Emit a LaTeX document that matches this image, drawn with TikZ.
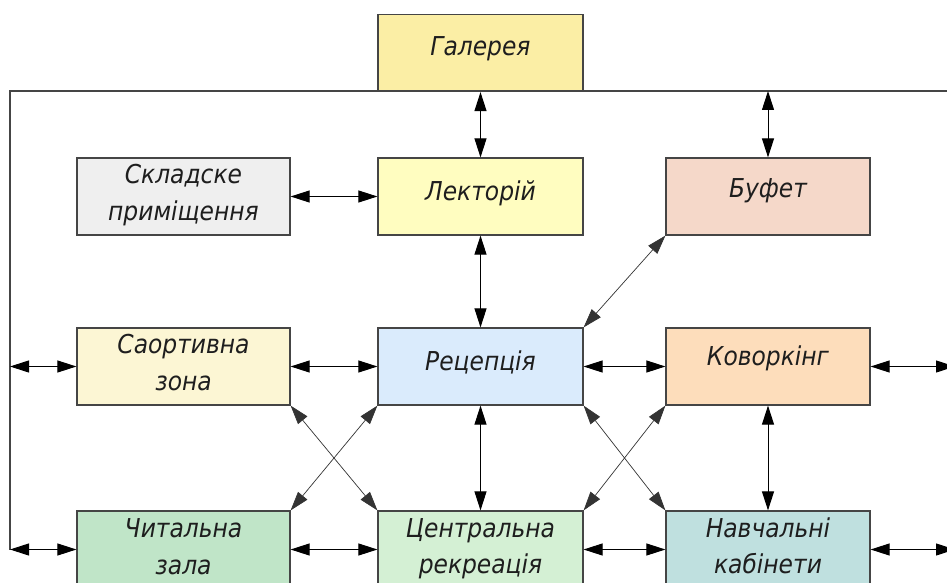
\documentclass[tikz,border=0pt]{standalone}
\usepackage{fontspec}
\newfontfamily\lab{DejaVu Sans Condensed}
\usetikzlibrary{arrows.meta}
\definecolor{cgal}{HTML}{FBEEA5}
\definecolor{clek}{HTML}{FFFDC0}
\definecolor{cskl}{HTML}{EFEFEF}
\definecolor{cbuf}{HTML}{F5D8C9}
\definecolor{cspo}{HTML}{FCF6D4}
\definecolor{crec}{HTML}{DAEBFC}
\definecolor{ckov}{HTML}{FDDDBB}
\definecolor{cchy}{HTML}{C0E5C8}
\definecolor{ccen}{HTML}{D4F0D4}
\definecolor{cnav}{HTML}{BFE0DF}
\definecolor{boxline}{HTML}{454545}
\definecolor{txt}{HTML}{1E1E1E}
\begin{document}
\begin{tikzpicture}[x=1pt,y=-1pt,
  room/.style={draw=boxline,line width=1.2pt,inner sep=0pt,minimum height=77pt},
  wl/.style={minimum width=213pt},
  wm/.style={minimum width=205pt},
  wr/.style={minimum width=204pt},
  lbl/.style={anchor=base,inner sep=0pt,text=txt,font=\lab\itshape\fontsize{26}{30}\selectfont},
  conn/.style={draw=black,line width=1pt,{Triangle[length=19pt,width=12pt]}-{Triangle[length=19pt,width=12pt]}},
  diag/.style={draw=black!80,line width=0.7pt,{Triangle[length=19pt,width=12pt]}-{Triangle[length=19pt,width=12pt]}},
  bus/.style={draw=boxline,line width=1.2pt}]
\useasboundingbox (0,0) rectangle (947,583);
\clip (0,0) rectangle (947,583);
\fill[white] (0,0) rectangle (947,583);
% boxes
\node[room,wm,fill=cgal] (gal) at (480.5,53) {};
\node[room,wl,fill=cskl] (skl) at (183.5,196.5) {};
\node[room,wm,fill=clek] (lek) at (480.5,196.5) {};
\node[room,wr,fill=cbuf] (buf) at (768,196.5) {};
\node[room,wl,fill=cspo] (spo) at (183.5,366.5) {};
\node[room,wm,fill=crec] (rec) at (480.5,366.5) {};
\node[room,wr,fill=ckov] (kov) at (768,366.5) {};
\node[room,wl,fill=cchy] (chy) at (183.5,549.5) {};
\node[room,wm,fill=ccen] (cen) at (480.5,549.5) {};
\node[room,wr,fill=cnav] (nav) at (768,549.5) {};
% labels
\node[lbl] (tgal) at (480.5,56) {Галерея};
\node[lbl] (tlek) at (480.5,200) {Лекторій};
\node[lbl] (tbuf) at (768,197) {Буфет};
\node[lbl] (trec) at (480.5,370) {Рецепція};
\node[lbl] (tkov) at (768,365) {Коворкінг};
\node[lbl] (tskla) at (183.5,183) {Складске};
\node[lbl] (tsklb) at (183.5,220) {приміщення};
\node[lbl] (tspoa) at (183.5,353) {Саортивна};
\node[lbl] (tspob) at (183.5,390) {зона};
\node[lbl] (tchya) at (183.5,537) {Читальна};
\node[lbl] (tchyb) at (183.5,574) {зала};
\node[lbl] (tcena) at (480.5,537) {Центральна};
\node[lbl] (tcenb) at (480.5,573) {рекреація};
\node[lbl] (tnava) at (768,537) {Навчальні};
\node[lbl] (tnavb) at (768,573) {кабінети};
% bus
\coordinate (bTL) at (10,91);
\coordinate (bTR) at (960,91);
\coordinate (bBL) at (10,549.5);
\coordinate (rE) at (955,0);
\draw[bus] (bTR) -- (bTL) -- (bBL);
% connectors
\draw[conn] (gal.south) -- (lek.north);
\draw[conn] (buf.north |- bTL) -- (buf.north);
\draw[conn] (skl.east) -- (lek.west);
\draw[conn] (lek.south) -- (rec.north);
\draw[diag] (buf.south west) -- (rec.north east);
\draw[conn] (spo.west -| bTL) -- (spo.west);
\draw[conn] (chy.west -| bTL) -- (chy.west);
\draw[conn] (spo.east) -- (rec.west);
\draw[conn] (rec.east) -- (kov.west);
\draw[conn] (kov.east) -- (kov.east -| rE);
\draw[diag] (spo.south east) -- (cen.north west);
\draw[diag] (rec.south west) -- (chy.north east);
\draw[conn] (rec.south) -- (cen.north);
\draw[diag] (rec.south east) -- (nav.north west);
\draw[diag] (kov.south west) -- (cen.north east);
\draw[conn] (kov.south) -- (nav.north);
\draw[conn] (chy.east) -- (cen.west);
\draw[conn] (cen.east) -- (nav.west);
\draw[conn] (nav.east) -- (nav.east -| rE);
\end{tikzpicture}
\end{document}
